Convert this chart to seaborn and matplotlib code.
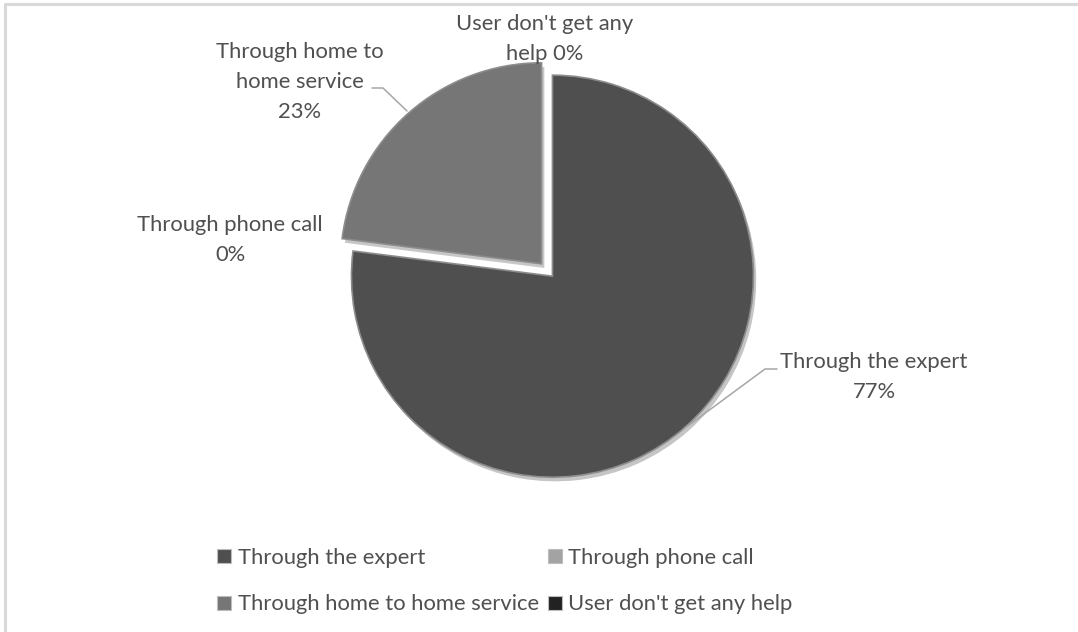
import matplotlib
matplotlib.use("Agg")
import matplotlib.pyplot as plt
import matplotlib.patheffects as pe
from matplotlib.lines import Line2D
import seaborn as sns

# Support channels and their share of respondents
categories = ["Through the expert", "Through phone call",
              "Through home to home service", "User don't get any help"]
shares = [77, 0, 23, 0]
slice_colors = ["#4f4f4f", "#a3a3a3", "#767676", "#222222"]

sns.set_theme(style="white")
plt.rcParams["font.family"] = ["Lato", "DejaVu Sans"]

W, H = 1078, 632
fig = plt.figure(figsize=(W / 100, H / 100), dpi=100)
ax = fig.add_axes([0, 0, 1, 1])


def py(y):
    """Convert a top-down pixel row into data y."""
    return H - y


TEXT = "#505050"
FS = 15.8
RADIUS = 201
# pie() offsets exploded wedges in data units
explode = [0.041 * RADIUS] * len(shares)

wedges, _ = ax.pie(
    shares,
    colors=slice_colors,
    explode=explode,
    startangle=90,
    counterclock=False,
    center=(547, py(270)),
    radius=RADIUS,
    frame=True,
    wedgeprops=dict(edgecolor="#8c8c8c", linewidth=1.2),
)
ax.set_xlim(0, W)
ax.set_ylim(0, H)
ax.set_aspect("equal")
ax.axis("off")
for w, val in zip(wedges, shares):
    if val == 0:
        # empty slices leave no outline on the chart
        w.set_linewidth(0)
        w.set_alpha(0)
    else:
        w.set_path_effects([pe.SimplePatchShadow(offset=(2, -3), alpha=0.25),
                            pe.Normal()])

# Data labels: category name and percentage
label_pos = {
    "Through the expert": (874, 377),
    "Through phone call": (230, 240),
    "Through home to home service": (300, 82),
    "User don't get any help": (545, 39),
}
label_text = {
    "Through the expert": "Through the expert\n{}%",
    "Through phone call": "Through phone call\n{}%",
    "Through home to home service": "Through home to\nhome service\n{}%",
    "User don't get any help": "User don't get any\nhelp {}%",
}
for cat, val in zip(categories, shares):
    x, y = label_pos[cat]
    ax.text(x, py(y), label_text[cat].format(val), ha="center", va="center",
            fontsize=FS, color=TEXT, linespacing=1.62, zorder=5)

# Leader lines
lead = dict(color="#a6a6a6", lw=1.1, zorder=4)
ax.add_line(Line2D([372, 383, 407], [py(88), py(88), py(111)], **lead))
ax.add_line(Line2D([777, 765, 685], [py(369), py(369), py(428)], **lead))

# Chart frame (left and top edges visible)
frame = dict(color="#d9d9d9", lw=2.2, zorder=1)
ax.add_line(Line2D([5, W], [py(4), py(4)], **frame))
ax.add_line(Line2D([5, 5], [py(4), 0], **frame))

# Legend laid out row by row
order = [0, 2, 1, 3]
leg = fig.legend([wedges[i] for i in order], [categories[i] for i in order],
                 ncol=2, loc="upper left",
                 bbox_to_anchor=(217 / W, 1 - 548 / H),
                 frameon=False, fontsize=FS, labelcolor=TEXT,
                 handlelength=0.64, handleheight=0.6, handletextpad=0.3,
                 columnspacing=0.4, labelspacing=1.2, borderpad=0,
                 borderaxespad=0)
for h, i in zip(leg.legend_handles, order):
    h.set_facecolor(slice_colors[i])
    h.set_alpha(1)
    h.set_edgecolor("#bdbdbd")
    h.set_linewidth(0.8)
    h.set_path_effects([])

fig.savefig("out.png", dpi=100)
